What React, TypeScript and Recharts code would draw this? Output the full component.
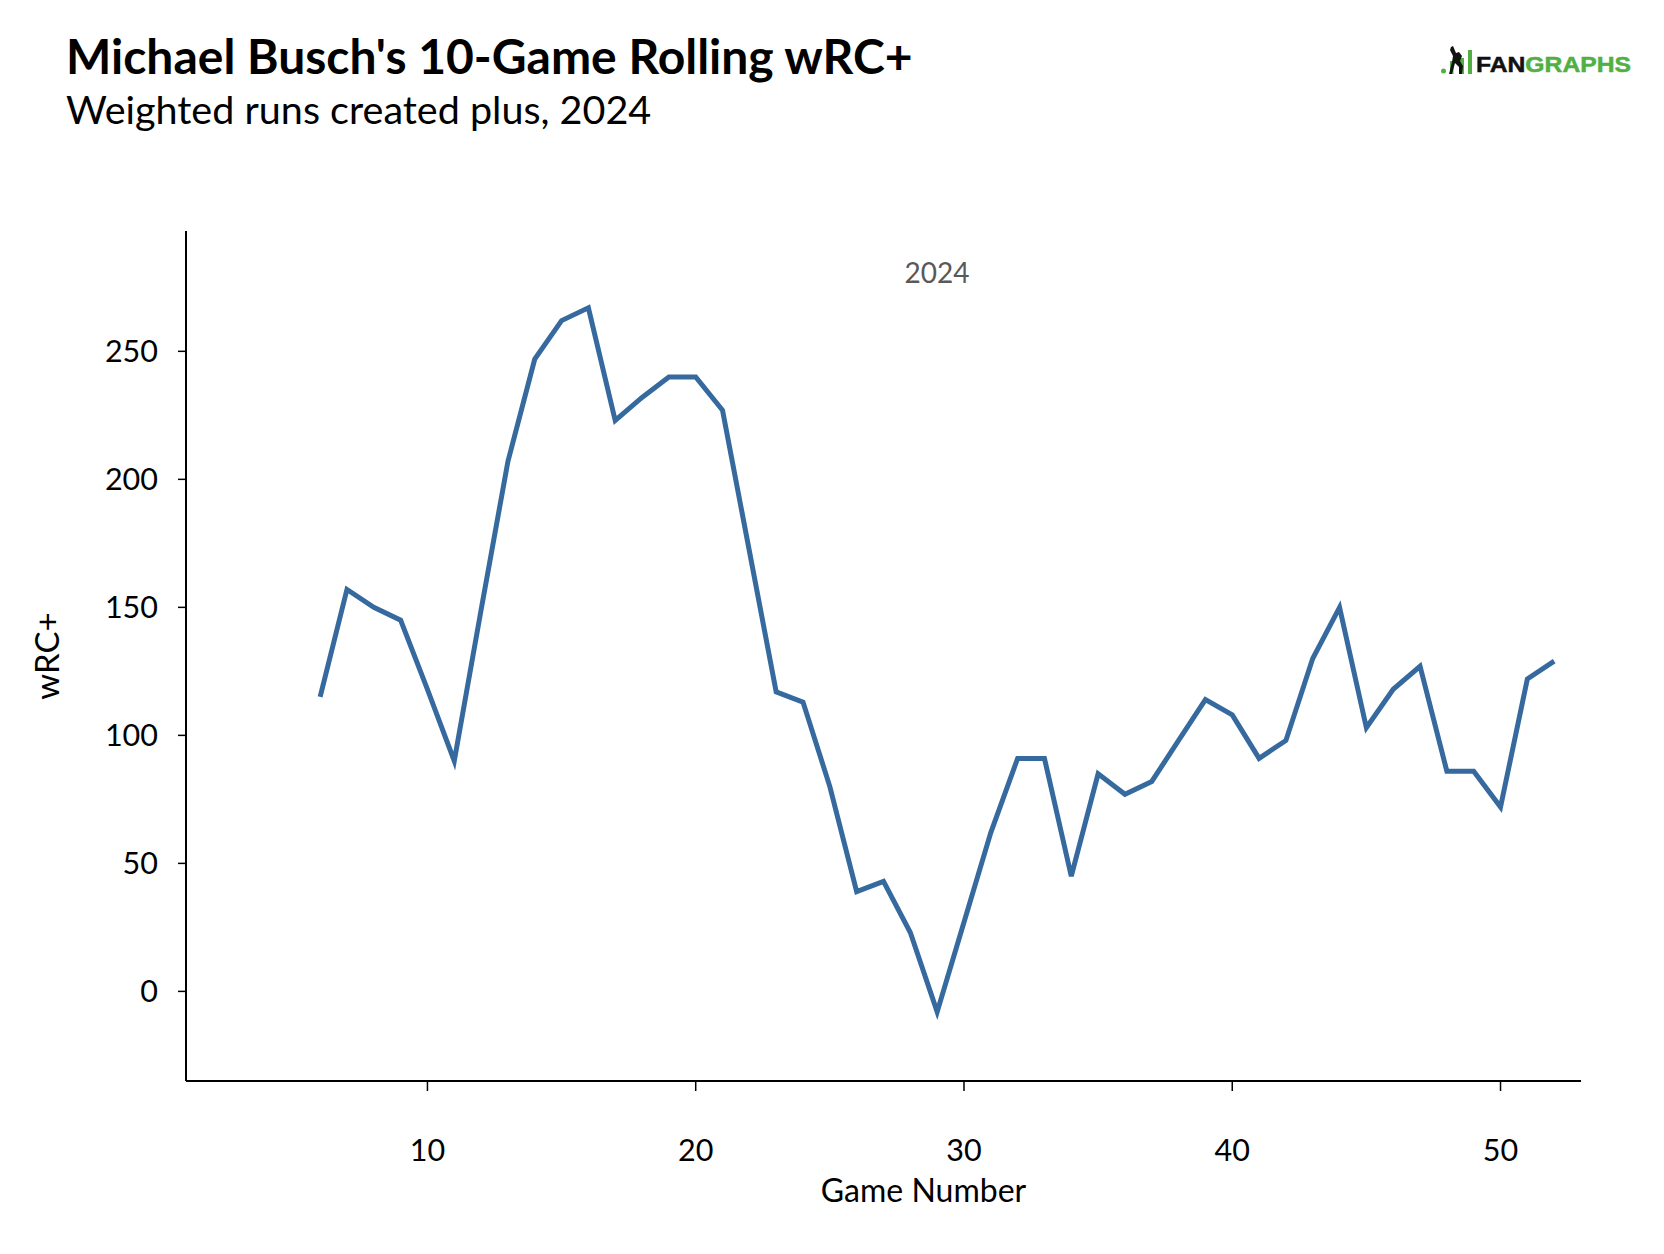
import { LineChart, Line, XAxis, YAxis } from "recharts";

// 10-game rolling wRC+
const games = [
  6, 7, 8, 9, 10, 11, 12, 13, 14, 15, 16, 17, 18, 19, 20, 21, 22, 23, 24, 25,
  26, 27, 28, 29, 30, 31, 32, 33, 34, 35, 36, 37, 38, 39, 40, 41, 42, 43, 44,
  45, 46, 47, 48, 49, 50, 51, 52,
];
const wrcPlus = [
  115, 157, 150, 145, 118, 90, 149, 207, 247, 262, 267, 223, 232, 240, 240,
  227, 172, 117, 113, 80, 39, 43, 23, -8, 27, 62, 91, 91, 45, 85, 77, 82, 98,
  114, 108, 91, 98, 130, 150, 103, 118, 127, 86, 86, 72, 122, 129,
];
const xTicks = [10, 20, 30, 40, 50];
const yTicks = [0, 50, 100, 150, 200, 250];

const data = games.map((g, i) => ({ game: g, wrc: wrcPlus[i] }));

const FONT = "Lato, 'Open Sans', sans-serif";
const LINE_COLOR = "#366a9e";
const GREEN = "#52b043";

function Logo() {
  return (
    <svg
      width={200}
      height={40}
      style={{ position: "absolute", left: 1440, top: 46 }}
    >
      <circle cx={3.5} cy={25} r={2.5} fill={GREEN} />
      <rect x={10} y={15} width={3.5} height={13} fill={GREEN} />
      <rect x={20} y={12} width={4} height={16} fill={GREEN} />
      <rect x={28} y={4} width={4} height={24} fill={GREEN} />
      <path
        d="M11 1 L13 0 L16 7 L19 6 L22 10 L20 15 L23 20 L22 28 L19 28 L19 21 L15 17 L12 28 L9 28 L12 16 L13 10 L10 4 Z"
        fill="#111"
      />
      <text
        x={36}
        y={25.7}
        textLength={155}
        lengthAdjust="spacingAndGlyphs"
        fontFamily="'Liberation Sans', Arial, sans-serif"
        fontWeight={700}
        fontSize={21.5}
        strokeWidth={0.5}
      >
        <tspan fill="#111" stroke="#111">FAN</tspan>
        <tspan fill={GREEN} stroke={GREEN}>GRAPHS</tspan>
      </text>
    </svg>
  );
}

export default function App() {
  return (
    <div
      style={{
        position: "absolute",
        left: 0,
        top: 0,
        width: 1664,
        height: 1254,
        background: "#fff",
        fontFamily: FONT,
      }}
    >
      <svg
        width={1200}
        height={140}
        style={{ position: "absolute", left: 0, top: 0 }}
      >
        <text x={66} y={74} fontFamily={FONT} fontWeight={700} fontSize={48} fill="#000">
          Michael Busch's 10-Game Rolling wRC+
        </text>
        <text x={66} y={124} fontFamily={FONT} fontSize={39.5} fill="#000">
          Weighted runs created plus, 2024
        </text>
      </svg>
      <Logo />
      <div
        style={{
          position: "absolute",
          left: 837,
          width: 200,
          top: 256,
          textAlign: "center",
          fontSize: 28,
          color: "#595959",
          lineHeight: "32px",
        }}
      >
        2024
      </div>
      <LineChart
        width={1664}
        height={1254}
        data={data}
        margin={{ top: 231, right: 83, left: 0, bottom: 0 }}
      >
        <XAxis
          dataKey="game"
          type="number"
          domain={[1, 53]}
          ticks={xTicks}
          allowDataOverflow
          height={173}
          axisLine={{ stroke: "#000", strokeWidth: 2 }}
          tickLine={{ stroke: "#000", strokeWidth: 1.5 }}
          tickSize={10}
          tickMargin={48}
          tick={{ fill: "#000", fontSize: 30.5, fontFamily: FONT }}
          label={{
            value: "Game Number",
            position: "insideBottom",
            offset: 52,
            dx: 40,
            fill: "#000",
            fontSize: 32,
            fontFamily: FONT,
          }}
        />
        <YAxis
          type="number"
          domain={[-35, 297]}
          ticks={yTicks}
          allowDataOverflow
          width={186}
          axisLine={{ stroke: "#000", strokeWidth: 2 }}
          tickLine={{ stroke: "#000", strokeWidth: 1.5 }}
          tickSize={8}
          tickMargin={20}
          tick={{ fill: "#000", fontSize: 30.5, fontFamily: FONT }}
          label={{
            value: "wRC+",
            angle: -90,
            position: "insideLeft",
            offset: 47,
            fill: "#000",
            fontSize: 33,
            fontFamily: FONT,
            style: { textAnchor: "middle" },
          }}
        />
        <Line
          type="linear"
          dataKey="wrc"
          stroke={LINE_COLOR}
          strokeWidth={5}
          dot={false}
          isAnimationActive={false}
        />
      </LineChart>
    </div>
  );
}
